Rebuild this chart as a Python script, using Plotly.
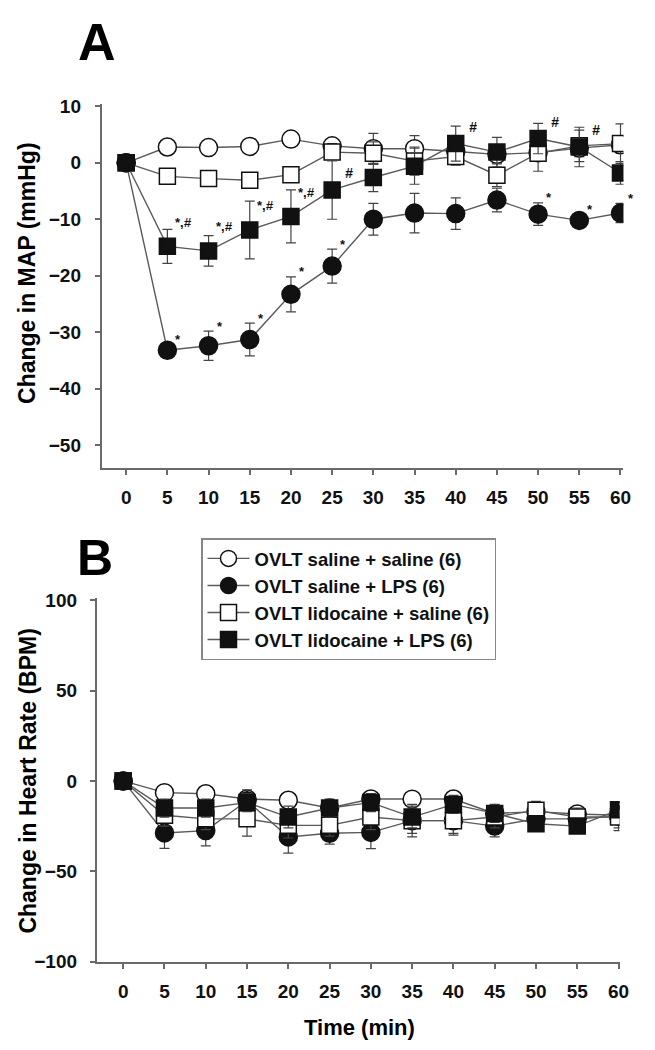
import plotly.graph_objects as go

# ---------------- data ----------------
time_min = [0, 5, 10, 15, 20, 25, 30, 35, 40, 45, 50, 55, 60]
series_names = ["OVLT saline + saline (6)", "OVLT saline + LPS (6)",
                "OVLT lidocaine + saline (6)", "OVLT lidocaine + LPS (6)"]

# Panel A: change in MAP (mmHg), mean and SEM
map_sal_sal = [0, 2.8, 2.7, 2.9, 4.2, 3.0, 2.5, 2.5, 2.0, 1.5, 1.8, 2.6, 3.2]
map_sal_sal_sem = [0, 0.8, 0.8, 0.8, 0.8, 1.0, 2.7, 2.3, 1.5, 1.5, 1.5, 1.5, 1.5]
map_sal_lps = [0, -33.2, -32.4, -31.3, -23.3, -18.3, -10.0, -8.9, -9.0, -6.6, -9.1, -10.2, -8.9]
map_sal_lps_sem = [0, 1.0, 2.6, 2.9, 3.1, 3.0, 2.8, 3.5, 2.8, 2.1, 2.0, 1.0, 1.7]
map_lido_sal = [0, -2.4, -2.8, -3.1, -2.1, 1.9, 1.7, 0.3, 1.1, -2.2, 1.7, 3.0, 3.4]
map_lido_sal_sem = [0, 0.8, 0.8, 0.8, 0.8, 1.5, 2.0, 2.5, 1.5, 2.0, 3.2, 2.8, 3.5]
map_lido_lps = [0, -14.8, -15.6, -11.9, -9.5, -4.8, -2.6, -0.6, 3.4, 1.9, 4.3, 2.8, -1.8]
map_lido_lps_sem = [0, 3.0, 2.7, 5.1, 4.7, 5.2, 2.5, 3.2, 3.1, 2.6, 2.7, 3.5, 2.0]

# significance marks (time points)
star_times_sal_lps = [5, 10, 15, 20, 25, 50, 55, 60]
stardash_times_lido_lps = [5, 10, 15, 20]
hash_times_lido_lps = [25, 40, 50, 55]

# Panel B: change in heart rate (BPM), mean and SEM
hr_sal_sal = [0, -6.5, -7.1, -10.0, -10.7, -15.0, -10.0, -10.1, -10.0, -18.0, -17.0, -18.3, -19.0]
hr_sal_sal_sem = [0, 4, 4, 4, 4, 4, 4, 4, 4, 4, 4, 4, 4]
hr_sal_lps = [0, -28.8, -27.5, -11.0, -31.0, -29.0, -28.5, -22.0, -22.0, -25.0, -21.0, -21.0, -19.5]
hr_sal_lps_sem = [0, 8.5, 8.5, 6.0, 9.0, 6.0, 9.0, 7.0, 7.0, 6.0, 5.0, 5.0, 8.0]
hr_lido_sal = [0, -19.0, -21.0, -21.0, -24.6, -24.6, -20.0, -22.0, -22.0, -20.0, -16.3, -20.0, -20.0]
hr_lido_sal_sem = [0, 6, 6, 9.6, 7, 6, 7, 9, 8, 6, 5, 5, 6]
hr_lido_lps = [0, -15.0, -15.0, -12.0, -20.0, -15.0, -12.0, -20.0, -13.0, -18.0, -23.7, -25.0, -16.0]
hr_lido_lps_sem = [0, 5, 5, 5, 6, 5, 5, 6, 5, 5, 4, 4, 4]

map_ticks = [-50, -40, -30, -20, -10, 0, 10]
hr_ticks = [-100, -50, 0, 50, 100]
x_ticks = time_min

# ---------------- styling ----------------
W, H = 655, 1050
FONT = "Liberation Sans, Arial, sans-serif"
AX = "#6a6a6a"
LINE = "#5a5a5a"
MK = "#111111"

styles = [
    dict(symbol="circle", color="white", size=18),
    dict(symbol="circle", color=MK, size=18),
    dict(symbol="square", color="white", size=16),
    dict(symbol="square", color=MK, size=16),
]

def px_dom_x(l, r):
    return [l / W, r / W]

def px_dom_y(top, bottom):
    return [(H - bottom) / H, (H - top) / H]

fig = go.Figure()

def add_series(means, sems, xa, ya, show):
    for i, (m, s) in enumerate(zip(means, sems)):
        st = styles[i]
        fig.add_trace(go.Scatter(
            x=time_min, y=m, xaxis=xa, yaxis=ya,
            mode="lines+markers", name=series_names[i], showlegend=show,
            line=dict(color=LINE, width=1.4),
            marker=dict(symbol=st["symbol"], size=st["size"], color=st["color"],
                        line=dict(color=MK, width=1.5)),
            error_y=dict(type="data", array=s, visible=True, color="#444444",
                         thickness=1.2, width=5),
        ))

add_series([map_sal_sal, map_sal_lps, map_lido_sal, map_lido_lps],
           [map_sal_sal_sem, map_sal_lps_sem, map_lido_sal_sem, map_lido_lps_sem],
           "x", "y", False)
add_series([hr_sal_sal, hr_sal_lps, hr_lido_sal, hr_lido_lps],
           [hr_sal_sal_sem, hr_sal_lps_sem, hr_lido_sal_sem, hr_lido_lps_sem],
           "x2", "y2", True)

axis_common = dict(showline=True, linecolor=AX, linewidth=1.5, ticks="outside",
                   tickcolor=AX, tickwidth=1.5, showgrid=False, zeroline=False,
                   tickfont=dict(family=FONT, size=19, color="#111", weight="bold"))

fig.update_layout(
    xaxis=dict(domain=px_dom_x(95, 625), range=[-2.99, 60.36], anchor="y",
               tickvals=x_ticks, ticklen=6, ticklabelstandoff=6, **axis_common),
    yaxis=dict(domain=px_dom_y(90, 460), range=[-54.0, 10.35], anchor="x",
               tickvals=map_ticks, ticklen=5, ticklabelstandoff=10, **axis_common),
    xaxis2=dict(domain=px_dom_x(90, 621), range=[-3.22, 60.12], anchor="y2",
                tickvals=x_ticks, ticklen=6, ticklabelstandoff=6, **axis_common),
    yaxis2=dict(domain=px_dom_y(593, 963), range=[-100, 101.1], anchor="x2",
                tickvals=hr_ticks, ticklen=5, ticklabelstandoff=9, **axis_common),
)

ann = []
for t in star_times_sal_lps:
    i = time_min.index(t)
    ann.append(dict(x=t, y=map_sal_lps[i] + map_sal_lps_sem[i], xref="x", yref="y",
                    text="*", showarrow=False, xshift=11, yshift=5,
                    font=dict(family=FONT, size=13, color="#111", weight="bold")))
for t in stardash_times_lido_lps:
    i = time_min.index(t)
    ann.append(dict(x=t, y=map_lido_lps[i], xref="x", yref="y",
                    text="*,<i>#</i>", showarrow=False, xshift=16, yshift=24,
                    font=dict(family=FONT, size=13, color="#111", weight="bold")))
for t in hash_times_lido_lps:
    i = time_min.index(t)
    ann.append(dict(x=t, y=map_lido_lps[i], xref="x", yref="y",
                    text="<i>#</i>", showarrow=False, xshift=17, yshift=17,
                    font=dict(family=FONT, size=14, color="#111", weight="bold")))

def paper_text(x, y, text, size, angle=0):
    return dict(x=x / W, y=1 - y / H, xref="paper", yref="paper", text=text,
                showarrow=False, xanchor="center", yanchor="middle", textangle=angle,
                font=dict(family=FONT, size=size, color="#000", weight="bold"))

ann += [
    paper_text(90, 26, "A", 52),
    paper_text(88, 552, "B", 50),
    paper_text(20, 262, "Change in MAP (mmHg)", 23, -90),
    paper_text(20, 779, "Change in Heart Rate (BPM)", 23, -90),
    paper_text(357, 1030, "Time (min)", 22),
]

fig.update_layout(
    width=W, height=H, margin=dict(l=0, r=0, t=0, b=0),
    paper_bgcolor="white", plot_bgcolor="white",
    annotations=ann,
    legend=dict(x=196 / W, y=1 - 532 / H, xanchor="left", yanchor="top",
                bgcolor="white", bordercolor="#888", borderwidth=1.5,
                font=dict(family=FONT, size=18.5, color="#111", weight="bold"),
                itemwidth=42, tracegroupgap=0),
)

fig.write_html("out.html")
